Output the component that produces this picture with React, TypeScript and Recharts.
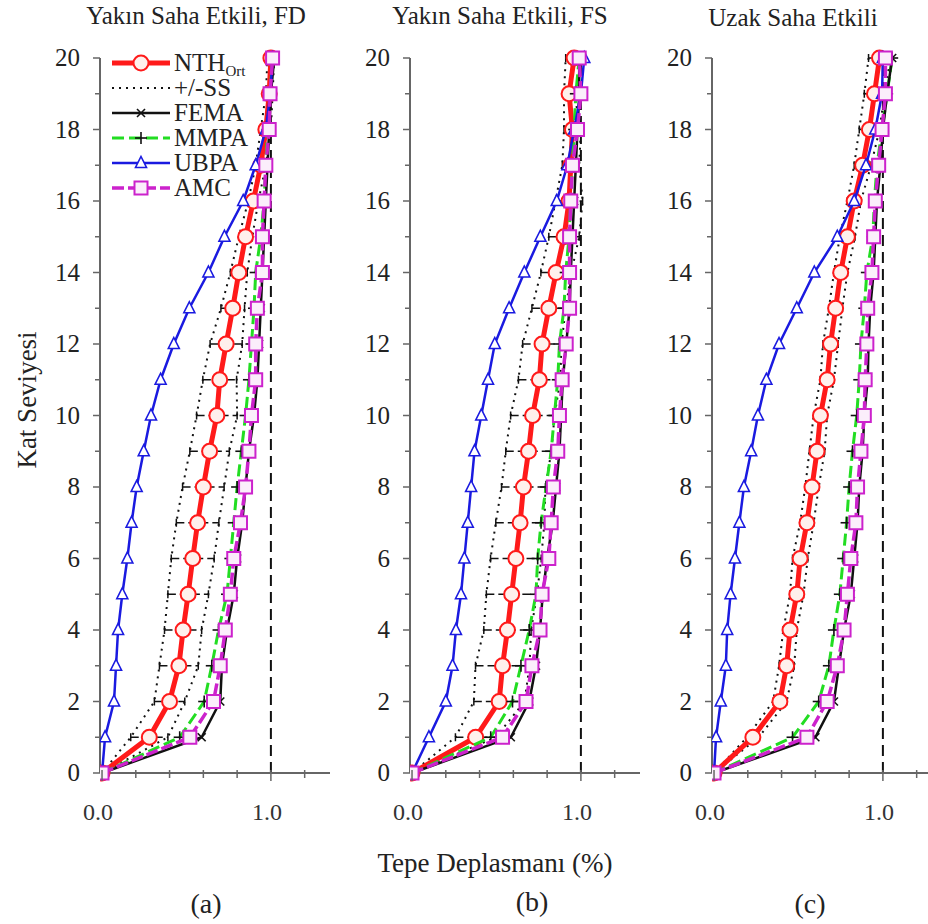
import React from "react";
import { ScatterChart, Scatter, XAxis, YAxis, ReferenceLine, ErrorBar } from "recharts";

// story levels (y) and x-axis tick values
const levels = [0, 1, 2, 3, 4, 5, 6, 7, 8, 9, 10, 11, 12, 13, 14, 15, 16, 17, 18, 19, 20];
const xTicks = [0, 0.2, 0.4, 0.6, 0.8, 1.0, 1.2];
const yTicks = levels;

// (a) Yakın Saha Etkili, FD
const nthA = [0, 0.28, 0.4, 0.455, 0.48, 0.51, 0.537, 0.566, 0.6, 0.637, 0.68, 0.697, 0.735, 0.774, 0.81, 0.85, 0.896, 0.94, 0.97, 0.99, 1.0];
const ssA = [0, 0.11, 0.09, 0.115, 0.11, 0.12, 0.127, 0.126, 0.123, 0.117, 0.12, 0.1, 0.095, 0.07, 0.05, 0.04, 0.03, 0.03, 0.03, 0.02, 0.02];
const femaA = [0, 0.59, 0.7, 0.71, 0.74, 0.78, 0.8, 0.83, 0.85, 0.87, 0.9, 0.92, 0.93, 0.94, 0.95, 0.96, 0.97, 0.98, 0.99, 1.0, 1.02];
const mmpaA = [0, 0.46, 0.605, 0.65, 0.69, 0.74, 0.76, 0.78, 0.8, 0.825, 0.85, 0.87, 0.885, 0.9, 0.91, 0.94, 0.96, 0.97, 0.98, 0.995, 1.01];
const ubpaA = [0, 0.018, 0.071, 0.083, 0.095, 0.12, 0.15, 0.175, 0.205, 0.247, 0.29, 0.347, 0.425, 0.517, 0.63, 0.725, 0.836, 0.91, 0.97, 0.996, 1.01];
const amcA = [0, 0.52, 0.66, 0.7, 0.73, 0.76, 0.78, 0.82, 0.85, 0.87, 0.885, 0.91, 0.91, 0.92, 0.95, 0.95, 0.96, 0.97, 0.99, 0.995, 1.01];

// (b) Yakın Saha Etkili, FS
const nthB = [0, 0.377, 0.516, 0.536, 0.565, 0.59, 0.615, 0.64, 0.66, 0.69, 0.714, 0.754, 0.77, 0.81, 0.853, 0.9, 0.93, 0.94, 0.95, 0.93, 0.96];
const ssB = [0, 0.12, 0.15, 0.16, 0.14, 0.15, 0.15, 0.144, 0.13, 0.135, 0.13, 0.124, 0.115, 0.1, 0.09, 0.09, 0.08, 0.05, 0.05, 0.03, 0.05];
const femaB = [0, 0.585, 0.694, 0.734, 0.758, 0.774, 0.8, 0.833, 0.853, 0.873, 0.883, 0.893, 0.913, 0.933, 0.94, 0.95, 0.96, 0.97, 0.98, 0.99, 0.99];
const mmpaB = [0, 0.466, 0.595, 0.645, 0.694, 0.734, 0.744, 0.764, 0.794, 0.824, 0.843, 0.863, 0.873, 0.9, 0.91, 0.93, 0.94, 0.95, 0.96, 0.97, 0.99];
const ubpaB = [0, 0.1, 0.2, 0.24, 0.26, 0.29, 0.31, 0.33, 0.35, 0.37, 0.41, 0.45, 0.49, 0.575, 0.665, 0.76, 0.857, 0.92, 0.96, 1.0, 1.02];
const amcB = [0, 0.536, 0.675, 0.71, 0.758, 0.77, 0.81, 0.824, 0.837, 0.863, 0.873, 0.889, 0.913, 0.933, 0.933, 0.933, 0.94, 0.95, 0.98, 1.0, 0.99];

// (c) Uzak Saha Etkili
const nthC = [0, 0.23, 0.39, 0.43, 0.45, 0.49, 0.51, 0.55, 0.58, 0.61, 0.63, 0.67, 0.69, 0.72, 0.75, 0.79, 0.83, 0.88, 0.92, 0.95, 0.98];
const ssC = [0, 0.035, 0.04, 0.045, 0.04, 0.04, 0.045, 0.04, 0.04, 0.045, 0.04, 0.04, 0.045, 0.04, 0.04, 0.045, 0.04, 0.05, 0.06, 0.06, 0.065];
const femaC = [0, 0.6, 0.71, 0.74, 0.77, 0.81, 0.83, 0.85, 0.86, 0.88, 0.89, 0.91, 0.915, 0.925, 0.945, 0.955, 0.965, 0.985, 1.0, 1.025, 1.055];
const mmpaC = [0, 0.465, 0.62, 0.68, 0.71, 0.745, 0.765, 0.785, 0.8, 0.82, 0.845, 0.86, 0.87, 0.89, 0.905, 0.94, 0.95, 0.965, 0.995, 1.025, 1.055];
const ubpaC = [0, 0.012, 0.04, 0.07, 0.078, 0.098, 0.124, 0.15, 0.177, 0.22, 0.26, 0.31, 0.385, 0.49, 0.594, 0.73, 0.83, 0.9, 0.955, 0.995, 1.0];
const amcC = [0, 0.55, 0.67, 0.73, 0.77, 0.79, 0.81, 0.84, 0.85, 0.87, 0.89, 0.895, 0.905, 0.91, 0.935, 0.945, 0.955, 0.975, 0.995, 1.015, 1.015];

const FONT = "'Liberation Serif', 'Times New Roman', serif";
const RED = "#ff1a1a";
const BLUE = "#1a1ae0";
const GREEN = "#22dd22";
const MAGENTA = "#cc22cc";
const BLACK = "#111";

const pts = (vals: number[]) => levels.map((y, i) => ({ x: vals[i], y }));

// markers
const CircleM = ({ cx, cy }: any) => (
  <circle cx={cx} cy={cy} r={7.5} fill="#fff0ec" stroke={RED} strokeWidth={2} />
);
const TriM = ({ cx, cy }: any) => (
  <path d={`M${cx},${cy - 6.5}L${cx + 5.5},${cy + 4.5}L${cx - 5.5},${cy + 4.5}Z`} fill="#fff" stroke={BLUE} strokeWidth={1.6} />
);
const SquareM = ({ cx, cy }: any) => (
  <rect x={cx - 6.5} y={cy - 6.5} width={13} height={13} fill="#fbeefb" stroke={MAGENTA} strokeWidth={2} />
);
const CrossM = ({ cx, cy }: any) => (
  <g stroke={BLACK} strokeWidth={1.6}>
    <line x1={cx - 4} y1={cy - 4} x2={cx + 4} y2={cy + 4} />
    <line x1={cx - 4} y1={cy + 4} x2={cx + 4} y2={cy - 4} />
  </g>
);
const PlusM = ({ cx, cy }: any) => (
  <g stroke={BLACK} strokeWidth={1.6}>
    <line x1={cx - 6} y1={cy} x2={cx + 6} y2={cy} />
    <line x1={cx} y1={cy - 6} x2={cx} y2={cy + 6} />
  </g>
);
const NoM = () => <g />;

const YTick = ({ x, y, payload }: any) => {
  const v = payload.value;
  const major = v % 2 === 0;
  return (
    <g>
      <line x1={x - (major ? 7 : 5)} x2={x} y1={y} y2={y} stroke="#666" strokeWidth={1.5} />
      {major && (
        <text x={x - 20} y={y + 8} textAnchor="end" style={{ fontFamily: FONT }} fontSize={25} fill="#222">
          {v}
        </text>
      )}
    </g>
  );
};

const XTick = ({ x, y, payload }: any) => {
  const v = payload.value;
  const major = Math.abs(v) < 1e-6 || Math.abs(v - 1) < 1e-6;
  return (
    <g>
      <line x1={x} x2={x} y1={y - 3} y2={y + (major ? 8 : 5)} stroke="#666" strokeWidth={1.5} />
      {major && (
        <text x={x - 4} y={y + 47} textAnchor="middle" style={{ fontFamily: FONT }} fontSize={24} fill="#333">
          {v.toFixed(1)}
        </text>
      )}
    </g>
  );
};

interface PanelProps {
  left: number;
  nth: number[];
  ss: number[];
  fema: number[];
  mmpa: number[];
  ubpa: number[];
  amc: number[];
}

const Panel = ({ left, nth, ss, fema, mmpa, ubpa, amc }: PanelProps) => {
  const errData = levels.map((y, i) => ({ x: nth[i], y, err: ss[i] }));
  const lowData = levels.map((y, i) => ({ x: nth[i] - ss[i], y }));
  const highData = levels.map((y, i) => ({ x: nth[i] + ss[i], y }));
  return (
    <div style={{ position: "absolute", left, top: 0 }}>
      <ScatterChart width={332} height={830} margin={{ top: 58, right: 2, left: 40, bottom: 17 }}>
        <XAxis
          type="number"
          dataKey="x"
          domain={[-0.012, 1.35]}
          ticks={xTicks}
          interval={0}
          allowDataOverflow
          height={40}
          tickLine={false}
          tickSize={0}
          tickMargin={0}
          tick={<XTick />}
          axisLine={{ stroke: "#666", strokeWidth: 2 }}
        />
        <YAxis
          type="number"
          dataKey="y"
          domain={[0, 20]}
          ticks={yTicks}
          interval={0}
          width={60}
          tickLine={false}
          tickSize={0}
          tickMargin={0}
          tick={<YTick />}
          axisLine={{ stroke: "#666", strokeWidth: 2 }}
        />
        <ReferenceLine x={1} stroke={BLACK} strokeWidth={2} strokeDasharray="11 6" />
        <Scatter data={errData} shape={<NoM />} isAnimationActive={false}>
          <ErrorBar dataKey="err" direction="x" width={4} stroke={BLACK} strokeWidth={1.5} strokeDasharray="8 4" isAnimationActive={false} />
        </Scatter>
        <Scatter data={lowData} shape={<NoM />} line={{ stroke: BLACK, strokeWidth: 2, strokeDasharray: "2 5" }} lineType="joint" isAnimationActive={false} />
        <Scatter data={highData} shape={<NoM />} line={{ stroke: BLACK, strokeWidth: 2, strokeDasharray: "2 5" }} lineType="joint" isAnimationActive={false} />
        <Scatter data={pts(nth)} shape={<CircleM />} fill={RED} line={{ stroke: RED, strokeWidth: 5 }} lineType="joint" isAnimationActive={false} />
        <Scatter data={pts(mmpa)} shape={<PlusM />} fill={GREEN} line={{ stroke: GREEN, strokeWidth: 3, strokeDasharray: "12 5" }} lineType="joint" isAnimationActive={false} />
        <Scatter data={pts(fema)} shape={<CrossM />} fill={BLACK} line={{ stroke: BLACK, strokeWidth: 2.5 }} lineType="joint" isAnimationActive={false} />
        <Scatter data={pts(ubpa)} shape={<TriM />} fill={BLUE} line={{ stroke: BLUE, strokeWidth: 2.5 }} lineType="joint" isAnimationActive={false} />
        <Scatter data={pts(amc)} shape={<SquareM />} fill={MAGENTA} line={{ stroke: MAGENTA, strokeWidth: 3.5, strokeDasharray: "12 4" }} lineType="joint" isAnimationActive={false} />
      </ScatterChart>
    </div>
  );
};

const legendRows = [
  { key: "nth", y: 63 },
  { key: "ss", y: 88 },
  { key: "fema", y: 113 },
  { key: "mmpa", y: 138 },
  { key: "ubpa", y: 163 },
  { key: "amc", y: 188 },
];

const Legend = () => (
  <g style={{ fontFamily: FONT }} fontSize={25} fill="#222">
    {legendRows.map(({ key, y }) => {
      const x1 = 112;
      const x2 = 170;
      const cx = 141;
      let line: React.ReactNode = null;
      let marker: React.ReactNode = null;
      let label: React.ReactNode = null;
      if (key === "nth") {
        line = <line x1={x1} x2={x2} y1={y} y2={y} stroke={RED} strokeWidth={5} />;
        marker = <CircleM cx={cx} cy={y} />;
        label = (
          <text x={174} y={y + 8}>
            NTH<tspan fontSize={15} dy={5}>Ort</tspan>
          </text>
        );
      } else if (key === "ss") {
        line = <line x1={x1} x2={x2} y1={y} y2={y} stroke={BLACK} strokeWidth={2} strokeDasharray="2 5" />;
        label = <text x={174} y={y + 8}>+/-SS</text>;
      } else if (key === "fema") {
        line = <line x1={x1} x2={x2} y1={y} y2={y} stroke={BLACK} strokeWidth={2.5} />;
        marker = <CrossM cx={cx} cy={y} />;
        label = <text x={174} y={y + 8}>FEMA</text>;
      } else if (key === "mmpa") {
        line = <line x1={x1} x2={x2} y1={y} y2={y} stroke={GREEN} strokeWidth={3} strokeDasharray="12 5" />;
        marker = <PlusM cx={cx} cy={y} />;
        label = <text x={174} y={y + 8}>MMPA</text>;
      } else if (key === "ubpa") {
        line = <line x1={x1} x2={x2} y1={y} y2={y} stroke={BLUE} strokeWidth={2.5} />;
        marker = <TriM cx={cx} cy={y} />;
        label = <text x={174} y={y + 8}>UBPA</text>;
      } else {
        line = <line x1={x1} x2={x2} y1={y} y2={y} stroke={MAGENTA} strokeWidth={3.5} strokeDasharray="12 4" />;
        marker = <SquareM cx={cx} cy={y} />;
        label = <text x={174} y={y + 8}>AMC</text>;
      }
      return (
        <g key={key}>
          {line}
          {marker}
          {label}
        </g>
      );
    })}
  </g>
);

export default function App() {
  return (
    <div style={{ position: "relative", width: 928, height: 924, overflow: "hidden", background: "#fff" }}>
      <style>{"body{margin:0;}"}</style>
      <Panel left={0} nth={nthA} ss={ssA} fema={femaA} mmpa={mmpaA} ubpa={ubpaA} amc={amcA} />
      <Panel left={310} nth={nthB} ss={ssB} fema={femaB} mmpa={mmpaB} ubpa={ubpaB} amc={amcB} />
      <Panel left={612} nth={nthC} ss={ssC} fema={femaC} mmpa={mmpaC} ubpa={ubpaC} amc={amcC} />
      <svg width={928} height={924} style={{ position: "absolute", left: 0, top: 0, pointerEvents: "none" }}>
        <g style={{ fontFamily: FONT }} fill="#222" textAnchor="middle">
          <text x={196} y={24} fontSize={25}>Yakın Saha Etkili, FD</text>
          <text x={500} y={24} fontSize={25}>Yakın Saha Etkili, FS</text>
          <text x={793} y={26} fontSize={25}>Uzak Saha Etkili</text>
          <text x={27} y={400} fontSize={27} transform="rotate(-90 27 400)" dominantBaseline="central">
            Kat Seviyesi
          </text>
          <text x={495} y={872} fontSize={27}>Tepe Deplasmanı (%)</text>
          <text x={206} y={913} fontSize={28}>(a)</text>
          <text x={532} y={911} fontSize={28}>(b)</text>
          <text x={810} y={913} fontSize={28}>(c)</text>
        </g>
        <Legend />
      </svg>
    </div>
  );
}
